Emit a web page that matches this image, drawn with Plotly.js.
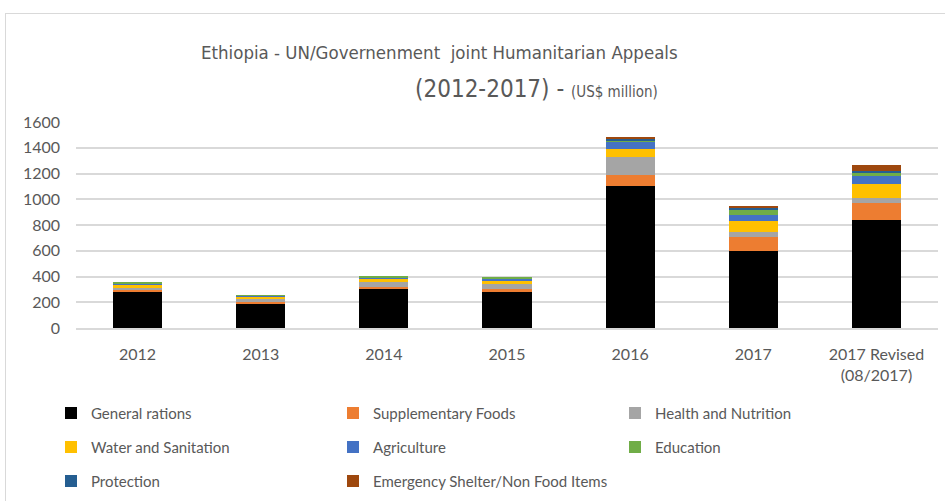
<!DOCTYPE html>
<html>
<head>
<meta charset="utf-8">
<script src="https://cdn.plot.ly/plotly-3.0.1.min.js"></script>
<style>
  html, body { margin: 0; padding: 0; background: #ffffff; overflow: hidden; }
  #chart { position: absolute; left: 0; top: 0; width: 945px; height: 530px; }
  #frame { position: absolute; left: 5px; top: 13px; width: 960px; height: 540px;
           border: 1px solid #d9d9d9; pointer-events: none; }
</style>
</head>
<body>
<div id="chart"></div>
<div id="frame"></div>
<script>
// ---- data (US$ million) ----
const years = ["2012", "2013", "2014", "2015", "2016", "2017", "2017 Revised<br>(08/2017)"];
const generalRations      = [277, 186, 300, 277, 1103, 598, 838];
const supplementaryFoods  = [16, 18, 21, 26, 85, 106, 134];
const healthNutrition     = [21, 21, 34, 39, 137, 41, 41];
const waterSanitation     = [21, 16, 26, 26, 65, 85, 106];
const agriculture         = [10, 10, 13, 13, 54, 44, 59];
const education           = [8, 5, 10, 10, 16, 41, 31];
const protection          = [0, 0, 0, 0, 8, 18, 13];
const shelterNFI          = [0, 0, 0, 0, 18, 18, 41];

const seriesNames = ["General rations", "Supplementary Foods", "Health and Nutrition",
  "Water and Sanitation", "Agriculture", "Education", "Protection",
  "Emergency Shelter/Non Food Items"];
const seriesValues = [generalRations, supplementaryFoods, healthNutrition, waterSanitation,
  agriculture, education, protection, shelterNFI];
const seriesColors = ["#000000", "#ED7D31", "#A5A5A5", "#FFC000", "#4472C4", "#70AD47", "#255E91", "#9E480E"];
const legendRows = ["legend", "legend", "legend", "legend2", "legend2", "legend2", "legend3", "legend3"];

const FONT = "Lato, 'Open Sans', sans-serif";
const TITLE_FONT = "'DejaVu Sans Condensed', Lato, sans-serif";
const TXT = "#595959";

const traces = seriesNames.map((name, i) => ({
  type: "bar",
  name: name,
  x: years,
  y: seriesValues[i],
  marker: { color: seriesColors[i] },
  legend: legendRows[i],
  hoverinfo: "x+y+name"
}));

// plot div is taller than the 501px window so bottom legends never push margins
const L = 76, R = 7, T = 122;
const W = 945, H = 530;
const B = H - 328.5;
const pw = W - L - R, ph = H - T - B;
const px = v => (v - L) / pw;
const py = v => (H - B - v) / ph;

const legendBase = {
  orientation: "h",
  entrywidth: 237,
  entrywidthmode: "pixels",
  xanchor: "left",
  yanchor: "middle",
  x: px(51),
  itemwidth: 30,
  bgcolor: "rgba(0,0,0,0)",
  font: { family: FONT, size: 15, color: TXT },
  traceorder: "normal",
  itemclick: false,
  itemdoubleclick: false
};

const layout = {
  width: W, height: H,
  margin: { l: L, r: R, t: T, b: B, pad: 0 },
  paper_bgcolor: "rgba(0,0,0,0)",
  plot_bgcolor: "rgba(0,0,0,0)",
  barmode: "stack",
  bargap: 0.6,
  showlegend: true,
  font: { family: FONT, color: TXT },
  xaxis: {
    type: "category",
    tickfont: { family: FONT, size: 16, color: TXT },
    showline: true, linecolor: "#d9d9d9", linewidth: 1.5,
    showgrid: false, ticks: "", ticklabelstandoff: 11
  },
  yaxis: {
    range: [0, 1600],
    dtick: 200,
    tickfont: { family: FONT, size: 16, color: TXT },
    showgrid: true, gridcolor: "#d9d9d9", gridwidth: 1.5,
    zeroline: false, showline: false, ticks: "", ticklabelstandoff: 15
  },
  legend:  Object.assign({}, legendBase, { y: py(414) }),
  legend2: Object.assign({}, legendBase, { y: py(448) }),
  legend3: Object.assign({}, legendBase, { y: py(482) }),
  annotations: [
    {
      xref: "paper", yref: "paper", x: px(439), y: py(52),
      xanchor: "center", yanchor: "middle", showarrow: false,
      text: "Ethiopia - UN/Governenment  joint Humanitarian Appeals",
      font: { family: TITLE_FONT, size: 18.5, color: TXT }
    },
    {
      xref: "paper", yref: "paper", x: px(413), y: py(89),
      xanchor: "left", yanchor: "middle", showarrow: false,
      text: "(2012-2017) - <span style='font-size:15px'>(US$ million)</span>",
      font: { family: TITLE_FONT, size: 24, color: TXT }
    }
  ]
};

Plotly.newPlot("chart", traces, layout, { displayModeBar: false, responsive: false });
</script>
</body>
</html>
